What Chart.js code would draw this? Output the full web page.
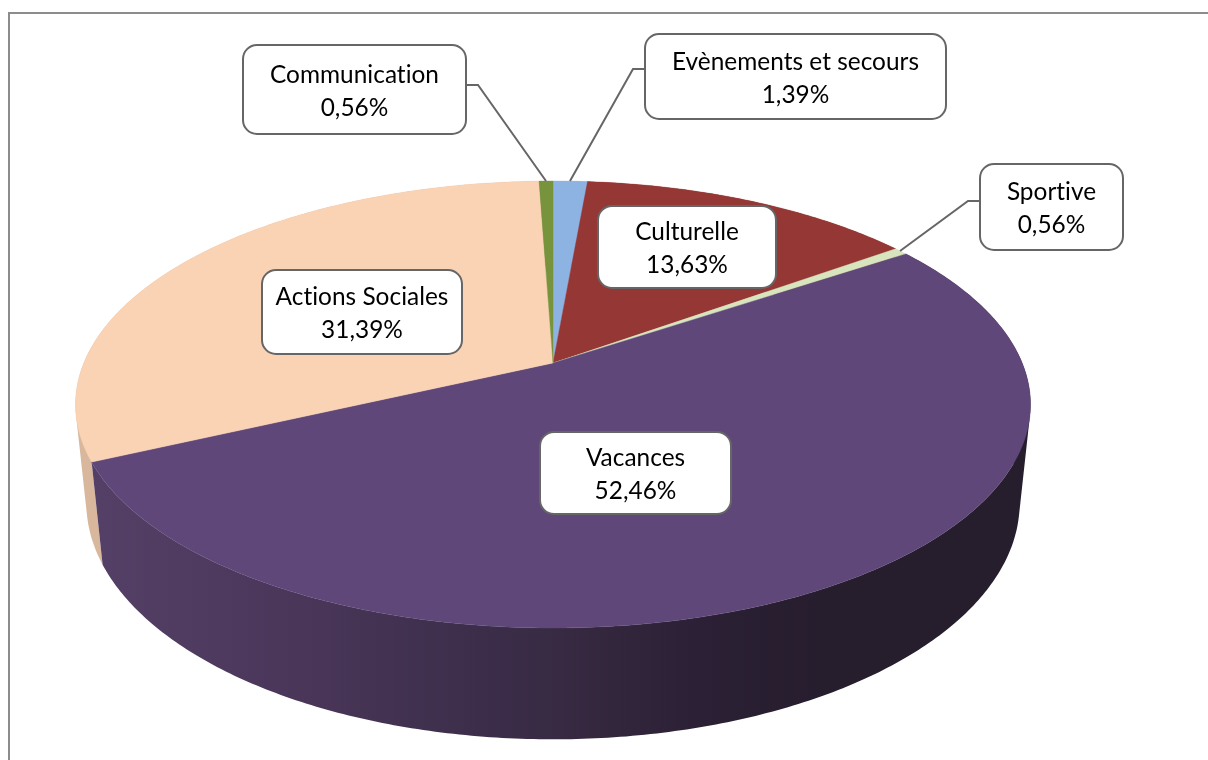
<!DOCTYPE html>
<html><head><meta charset="utf-8">
<style>html,body{margin:0;padding:0;background:#fff;overflow:hidden}canvas{display:block}</style>
<script src="https://cdn.jsdelivr.net/npm/chart.js@4/dist/chart.umd.min.js"></script>
</head><body>
<canvas id="c" width="1208" height="760"></canvas>
<script>
const categories = ['Evènements et secours','Culturelle','Sportive','Vacances','Actions Sociales','Communication'];
const shares = [1.39,13.63,0.56,52.46,31.39,0.56];
const sliceColors = ['#8db3e2','#953735','#d7e4bd','#5f4879','#fad2b4','#77933c'];

// projection of the tilted disc
const P = {cx:553, cy:363, a:469.2, b:215.8, p:0.1857, q:0.0225, c:99.1};
const top3d = t => { const u=Math.sin(t), v=Math.cos(t), w=1+P.p*v;
  return [P.cx+P.a*u/w, P.cy-P.b*v/w]; };
const bot3d = t => { const u=Math.sin(t), v=Math.cos(t), w=1+P.p*v+P.q;
  return [P.cx+P.a*u/w, P.cy+(P.c-P.b*v)/w]; };

function sideFill(ctx,i){
  if(i===3){
    const g=ctx.createLinearGradient(100,0,830,0);
    g.addColorStop(0,'#544066');g.addColorStop(0.27,'#4a3659');g.addColorStop(0.52,'#3c2e4b');
    g.addColorStop(0.63,'#372a42');g.addColorStop(0.82,'#2b2035');g.addColorStop(1,'#261d2d');
    return g;
  }
  return i===4?'#d8b79c':sliceColors[i];
}
const callouts = [
 {i:0,box:[645,34,301,85],lead:[[645,69],[633,69],[570,181]]},
 {i:1,box:[598,206,178,82]},
 {i:2,box:[980,164,143,86],lead:[[980,201],[968,201],[900,251]]},
 {i:3,box:[540,432,191,82]},
 {i:4,box:[262,270,200,84]},
 {i:5,box:[243,45,223,89],lead:[[466,85],[478,85],[546,181]]}
];
const pie3d = {
  id:'pie3d',
  beforeDraw(chart){
    const ctx=chart.ctx; ctx.save();
    ctx.fillStyle='#fff';ctx.fillRect(0,0,1208,760);
    ctx.strokeStyle='#8c8c8c';ctx.lineWidth=2;
    ctx.beginPath();ctx.moveTo(9,760);ctx.lineTo(9,13);ctx.lineTo(1208,13);ctx.stroke();
    ctx.restore();
  },
  beforeDatasetsDraw(chart){
    const ctx=chart.ctx, arcs=chart.getDatasetMeta(0).data;
    const range=i=>[arcs[i].startAngle+Math.PI/2, arcs[i].endAngle+Math.PI/2];
    ctx.save();
    // side walls: one path of small, equally oriented quads, so folds near the tangent edges stay filled
    [0,1,2,5,4,3].forEach(i=>{
      const [s,e]=range(i), n=Math.max(4,Math.ceil((e-s)*90));
      ctx.beginPath();
      for(let k=0;k<n;k++){
        const t0=s+(e-s)*k/n,t1=s+(e-s)*(k+1)/n;
        let q=[top3d(t0),top3d(t1),bot3d(t1),bot3d(t0)];
        let area=0;
        q.forEach((m,j)=>{const o=q[(j+1)%4];area+=m[0]*o[1]-o[0]*m[1];});
        if(area<0)q.reverse();
        q.forEach((m,j)=>j?ctx.lineTo(m[0],m[1]):ctx.moveTo(m[0],m[1]));
        ctx.closePath();
      }
      ctx.fillStyle=sideFill(ctx,i);ctx.fill();
    });
    // top faces
    arcs.forEach((arc,i)=>{
      const [s,e]=range(i), n=Math.max(4,Math.ceil((e-s)*90));
      ctx.beginPath();ctx.moveTo(P.cx,P.cy);
      for(let k=0;k<=n;k++){const q=top3d(s+(e-s)*k/n);ctx.lineTo(q[0],q[1]);}
      ctx.closePath();
      ctx.fillStyle=arc.options.backgroundColor;ctx.fill();
      ctx.strokeStyle=arc.options.backgroundColor;ctx.lineWidth=0.4;ctx.stroke();
    });
    ctx.restore();
    return false;
  },
  afterDraw(chart){
    const ctx=chart.ctx; ctx.save();
    callouts.forEach(c=>{
      if(c.lead){
        ctx.beginPath();c.lead.forEach((q,k)=>k?ctx.lineTo(q[0],q[1]):ctx.moveTo(q[0],q[1]));
        ctx.strokeStyle='#666';ctx.lineWidth=2;ctx.stroke();
      }
      const [x,y,w,h]=c.box;
      ctx.beginPath();ctx.roundRect(x,y,w,h,14);
      ctx.fillStyle='#fff';ctx.fill();ctx.strokeStyle='#666';ctx.lineWidth=2;ctx.stroke();
      ctx.fillStyle='#000';ctx.font='24.4px Lato, Carlito, sans-serif';
      ctx.letterSpacing='0.02px';
      ctx.textAlign='center';ctx.textBaseline='alphabetic';
      const mx=x+w/2,my=y+h/2;
      ctx.fillText(categories[c.i],mx,my-7);
      ctx.fillText(shares[c.i].toFixed(2).replace('.',',')+'%',mx,my+26);
    });
    ctx.restore();
  }
};
new Chart(document.getElementById('c'),{
  type:'pie',
  data:{labels:categories,datasets:[{data:shares,backgroundColor:sliceColors,borderWidth:0}]},
  options:{responsive:false,animation:false,devicePixelRatio:1,
    plugins:{legend:{display:false},tooltip:{enabled:false}}},
  plugins:[pie3d]
});
</script>
</body></html>
